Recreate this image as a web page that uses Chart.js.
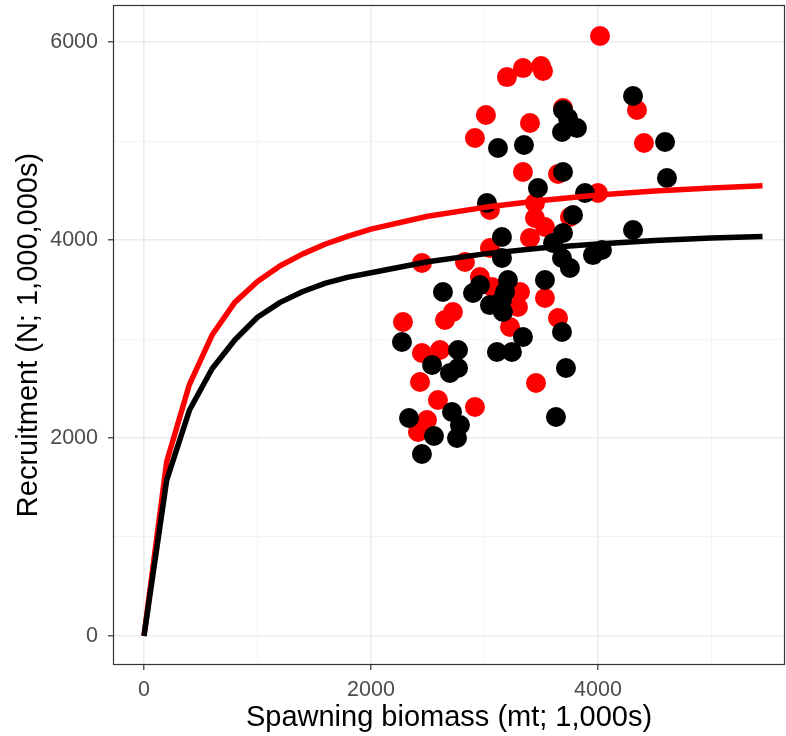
<!DOCTYPE html>
<html>
<head>
<meta charset="utf-8">
<script src="https://cdn.jsdelivr.net/npm/chart.js@4.4.1/dist/chart.umd.min.js"></script>
<style>
  html, body { margin: 0; padding: 0; background: #fff; }
  #wrap { width: 786px; height: 736px; }
</style>
</head>
<body>
<div id="wrap"><canvas id="c" width="786" height="736"></canvas></div>
<script>
// observed recruitment vs spawning biomass, two series
const redS = [4018, 3198, 3339, 3498, 3516, 3013, 2916, 3401, 3692, 4344, 4405, 3339, 3648, 4000,
  3048, 3445, 3445, 3533, 3401, 3048, 3753, 2449, 2828, 2960, 3066, 3313, 3295, 3533, 3648,
  2282, 2722, 2652, 3225, 2449, 2608, 2432, 2590, 2916, 2494, 2414, 3454];
const redR = [6061, 5646, 5737, 5758, 5707, 5263, 5030, 5182, 5333, 5313, 4980, 4687, 4667, 4475,
  4303, 4374, 4222, 4131, 4020, 3919, 4232, 3768, 3778, 3626, 3525, 3475, 3323, 3414, 3212,
  3172, 3273, 3192, 3121, 2859, 2889, 2566, 2384, 2313, 2182, 2061, 2556];

const blackS = [4309, 3692, 3736, 3815, 3683, 3119, 3348, 4591, 3692, 4608, 3471, 3886, 3022, 3780,
  4309, 3154, 3692, 3604, 4035, 3956, 3154, 3683, 3753, 3533, 3207, 2634, 2960, 2899, 3181,
  3048, 3154, 3163, 3683, 3339, 2273, 3110, 3242, 2767, 2538, 2767, 2696, 3718, 2335, 2714,
  2784, 2555, 2758, 2449, 3630];
const blackR = [5455, 5313, 5232, 5131, 5091, 4929, 4960, 4990, 4687, 4626, 4525, 4475, 4374, 4253,
  4101, 4030, 4071, 3970, 3899, 3848, 3818, 3818, 3717, 3596, 3596, 3475, 3545, 3465, 3475,
  3343, 3394, 3273, 3071, 3020, 2970, 2869, 2869, 2889, 2737, 2707, 2657, 2707, 2202, 2263,
  2131, 2020, 2000, 1838, 2212];

// fitted stock-recruit curves
const curveS = [0, 200, 400, 600, 800, 1000, 1200, 1400, 1600, 1800, 2000, 2500, 3000, 3500, 4000, 4500, 5000, 5450];
const redCurve = [0, 1760, 2540, 3040, 3370, 3580, 3740, 3860, 3960, 4040, 4110, 4240, 4330, 4400, 4455, 4495, 4525, 4548];
const blackCurve = [0, 1575, 2280, 2700, 2990, 3220, 3370, 3480, 3565, 3625, 3670, 3780, 3860, 3920, 3960, 3995, 4020, 4035];

// labelled ticks and full grid (major + minor)
const xTicks = [0, 2000, 4000];
const yTicks = [0, 2000, 4000, 6000];
const xGrid = [0, 1000, 2000, 3000, 4000, 5000];
const yGrid = [0, 1000, 2000, 3000, 4000, 5000, 6000];

const toPts = (xs, ys) => xs.map((x, i) => ({ x, y: ys[i] }));
const FONT = "'Liberation Sans', Arial, sans-serif";

const panelBorder = {
  id: "panelBorder",
  afterDraw(chart){
    const a = chart.chartArea, ctx = chart.ctx;
    ctx.save();
    ctx.strokeStyle = "#333333";
    ctx.lineWidth = 1.2;
    ctx.strokeRect(a.left + 0.5, a.top + 0.5, a.right - a.left - 1, a.bottom - a.top - 1);
    ctx.restore();
  }
};

function gridOpts(majors){
  return {
    color: c => majors.includes(c.tick.value) ? "#EBEBEB" : "#F3F3F3",
    lineWidth: c => majors.includes(c.tick.value) ? 1.6 : 0.9,
    tickColor: c => majors.includes(c.tick.value) ? "#333333" : "rgba(0,0,0,0)",
    tickLength: 5,
    tickWidth: 1.2
  };
}

new Chart(document.getElementById("c"), {
  type: "scatter",
  data: {
    datasets: [
      { type: "line", data: toPts(curveS, blackCurve), borderColor: "#000000", borderWidth: 5.5,
        pointRadius: 0, tension: 0, fill: false, borderJoinStyle: "round" },
      { type: "line", data: toPts(curveS, redCurve), borderColor: "#FF0000", borderWidth: 5.5,
        pointRadius: 0, tension: 0, fill: false, borderJoinStyle: "round" },
      { data: toPts(blackS, blackR), backgroundColor: "#000000", borderWidth: 0, pointRadius: 10 },
      { data: toPts(redS, redR), backgroundColor: "#FF0000", borderWidth: 0, pointRadius: 10 }
    ]
  },
  options: {
    responsive: false,
    animation: false,
    events: [],
    layout: { autoPadding: false, padding: { left: 0, top: 5, right: 1, bottom: 0 } },
    plugins: { legend: { display: false }, tooltip: { enabled: false } },
    scales: {
      x: {
        type: "linear", min: -273, max: 5648,
        afterBuildTicks: s => { s.ticks = xGrid.map(v => ({ value: v })); },
        afterFit: s => { s.height = 71; s.paddingLeft = 0; s.paddingRight = 0; },
        border: { display: false },
        grid: gridOpts(xTicks),
        ticks: {
          maxRotation: 0, autoSkip: false,
          color: "#4D4D4D", padding: 7,
          font: { family: FONT, size: 21.5 },
          callback: v => xTicks.includes(v) ? String(v) : ""
        },
        title: {
          display: true, text: "Spawning biomass (mt; 1,000s)", color: "#000000",
          font: { family: FONT, size: 29 },
          padding: { top: 0, bottom: 1 }
        }
      },
      y: {
        type: "linear", min: -293, max: 6374,
        afterBuildTicks: s => { s.ticks = yGrid.map(v => ({ value: v })); },
        afterFit: s => { s.width = 113; s.paddingTop = 0; s.paddingBottom = 0; },
        border: { display: false },
        grid: gridOpts(yTicks),
        ticks: {
          autoSkip: false,
          color: "#4D4D4D", padding: 10,
          font: { family: FONT, size: 21.5 },
          callback: v => yTicks.includes(v) ? String(v) : ""
        },
        title: {
          display: true, text: "Recruitment (N; 1,000,000s)", color: "#000000",
          font: { family: FONT, size: 29 },
          padding: { top: 12, bottom: 0 }
        }
      }
    }
  },
  plugins: [panelBorder]
});
</script>
</body>
</html>
